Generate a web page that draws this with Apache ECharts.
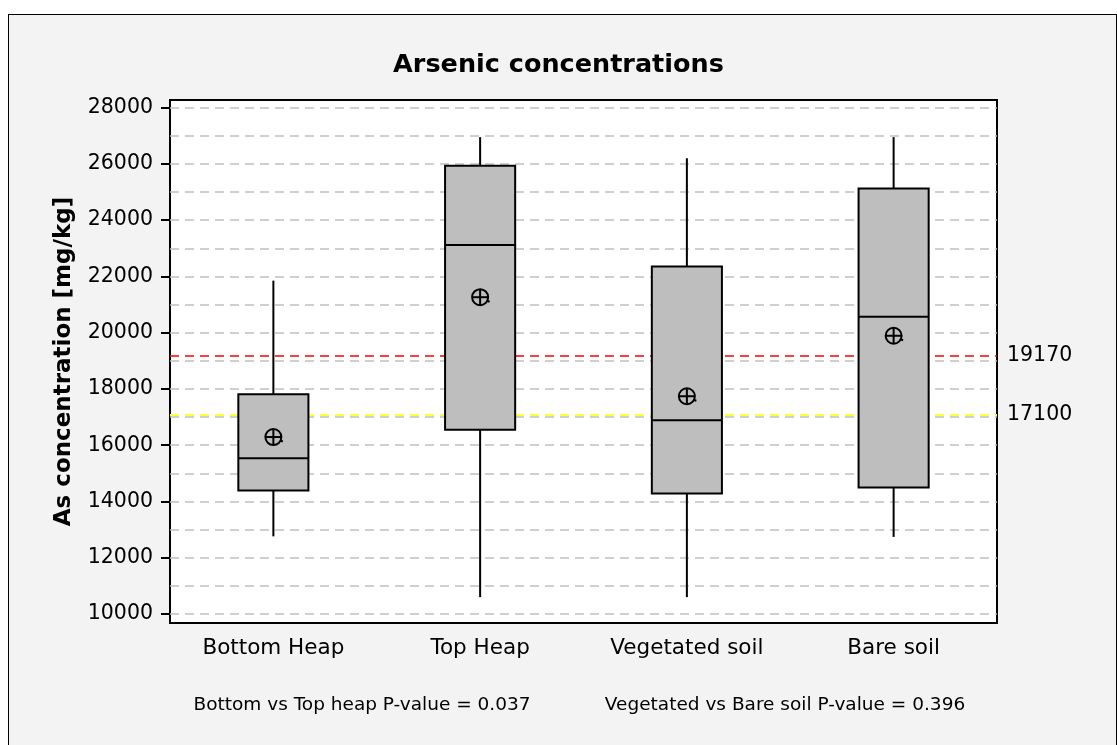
<!DOCTYPE html>
<html><head><meta charset="utf-8">
<script src="https://cdn.jsdelivr.net/npm/echarts@6/dist/echarts.min.js"></script>
<style>
html,body{margin:0;padding:0;background:#fff;overflow:hidden;}
#frame{position:absolute;left:8px;top:14px;width:1109px;height:800px;box-sizing:border-box;border:1px solid #000;background:#f3f3f3;}
#chart{position:absolute;left:0;top:0;width:1117px;height:745px;}
</style></head><body><div id="frame"></div><div id="chart"></div>
<script>
const categories = ['Bottom Heap', 'Top Heap', 'Vegetated soil', 'Bare soil'];
const whiskerLow = [12760, 10600, 10600, 12740];
const q1 = [14390, 16550, 14280, 14500];
const median = [15540, 23120, 16890, 20570];
const q3 = [17810, 25930, 22350, 25120];
const whiskerHigh = [21850, 26950, 26200, 26950];
const mean = [16290, 21260, 17740, 19890];
const yTicks = [10000, 12000, 14000, 16000, 18000, 20000, 22000, 24000, 26000, 28000];
const gridValues = [10000, 11000, 12000, 13000, 14000, 15000, 16000, 17000, 18000, 19000, 20000, 21000, 22000, 23000, 24000, 25000, 26000, 27000, 28000];
const redLimit = 19170;
const yellowLimit = 17100;
const pValueTexts = ['Bottom vs Top heap P-value = 0.037', 'Vegetated vs Bare soil P-value = 0.396'];

const FONT = 'DejaVu Sans';
const boxData = categories.map((c, i) => [i, whiskerLow[i], q1[i], median[i], q3[i], whiskerHigh[i], mean[i]]);

function renderItem(params, api) {
  const i = api.value(0);
  const lo = api.coord([i, api.value(1)]);
  const b1 = api.coord([i, api.value(2)]);
  const md = api.coord([i, api.value(3)]);
  const b3 = api.coord([i, api.value(4)]);
  const hi = api.coord([i, api.value(5)]);
  const mn = api.coord([i, api.value(6)]);
  const band = api.size([1, 0])[0];
  const w = band * 0.339;
  const x = lo[0];
  const st = {stroke: '#000', lineWidth: 2};
  return {type: 'group', children: [
    {type: 'line', shape: {x1: x, y1: hi[1], x2: x, y2: b3[1]}, style: st},
    {type: 'line', shape: {x1: x, y1: b1[1], x2: x, y2: lo[1]}, style: st},
    {type: 'rect', shape: {x: x - w / 2, y: b3[1], width: w, height: b1[1] - b3[1]}, style: {fill: '#bebebe', stroke: '#000', lineWidth: 2}},
    {type: 'line', shape: {x1: x - w / 2, y1: md[1], x2: x + w / 2, y2: md[1]}, style: st},
    {type: 'circle', shape: {cx: mn[0], cy: mn[1], r: 8}, style: {fill: 'none', stroke: '#000', lineWidth: 2}},
    {type: 'line', shape: {x1: mn[0] - 8, y1: mn[1], x2: mn[0] + 8, y2: mn[1]}, style: st},
    {type: 'line', shape: {x1: mn[0], y1: mn[1] - 8, x2: mn[0], y2: mn[1] + 8}, style: st},
    {type: 'line', shape: {x1: mn[0] + 6.5, y1: mn[1] + 3.5, x2: mn[0] + 9.5, y2: mn[1] + 4.5}, style: st}
  ]};
}

const chart = echarts.init(document.getElementById('chart'), null, {renderer: 'canvas'});
chart.setOption({
  animation: false,
  backgroundColor: 'transparent',
  title: {
    text: 'Arsenic concentrations', left: 'center', top: 47,
    textStyle: {fontFamily: FONT, fontSize: 25.5, fontWeight: 'bold', color: '#000'}
  },
  grid: {left: 170, right: 120, top: 100, bottom: 122, show: true, backgroundColor: '#fff', borderColor: '#000', borderWidth: 2},
  xAxis: {
    type: 'category', data: categories, boundaryGap: true,
    axisLine: {show: true, lineStyle: {color: '#000', width: 2}},
    axisTick: {show: false},
    axisLabel: {fontFamily: FONT, fontSize: 21.5, color: '#000', margin: 14},
    splitLine: {show: false}
  },
  yAxis: {
    type: 'value', min: 9680, max: 28270,
    axisLine: {show: true, lineStyle: {color: '#000', width: 2}},
    axisTick: {show: true, length: 9, customValues: yTicks, lineStyle: {color: '#000', width: 2}},
    axisLabel: {customValues: yTicks, formatter: v => String(v), fontFamily: FONT, fontSize: 20.5, color: '#000', margin: 17},
    splitLine: {show: false},
    name: 'As concentration [mg/kg]', nameLocation: 'middle', nameGap: 94,
    nameTextStyle: {fontFamily: FONT, fontSize: 23, fontWeight: 'bold', color: '#000'}
  },
  graphic: [
    {type: 'text', x: 362, y: 696, style: {text: pValueTexts[0], fontFamily: FONT, fontSize: 18.5, fill: '#000', textAlign: 'center'}},
    {type: 'text', x: 785, y: 696, style: {text: pValueTexts[1], fontFamily: FONT, fontSize: 18.5, fill: '#000', textAlign: 'center'}}
  ],
  series: [
    {
      type: 'line', data: [], silent: true,
      markLine: {
        silent: true, symbol: 'none', z: 1, animation: false,
        label: {show: false},
        lineStyle: {color: '#c0c0c0', type: [9, 6], width: 1.5},
        data: gridValues.map(v => ({yAxis: v}))
      }
    },
    {
      type: 'line', data: [], silent: true,
      markLine: {
        silent: true, symbol: 'none', z: 1, animation: false,
        label: {show: true, position: 'end', distance: 10, color: '#000', fontFamily: FONT, fontSize: 20.5, formatter: p => String(p.value)},
        data: [
          {yAxis: redLimit, lineStyle: {color: '#ff0000', type: [9, 6], width: 1.5}},
          {yAxis: yellowLimit, lineStyle: {color: '#ffff33', type: [9, 6], width: 2}}
        ]
      }
    },
    {
      type: 'custom', z: 3, renderItem: renderItem, data: boxData,
      encode: {x: 0, y: [1, 2, 3, 4, 5, 6]}
    }
  ]
});
</script></body></html>
